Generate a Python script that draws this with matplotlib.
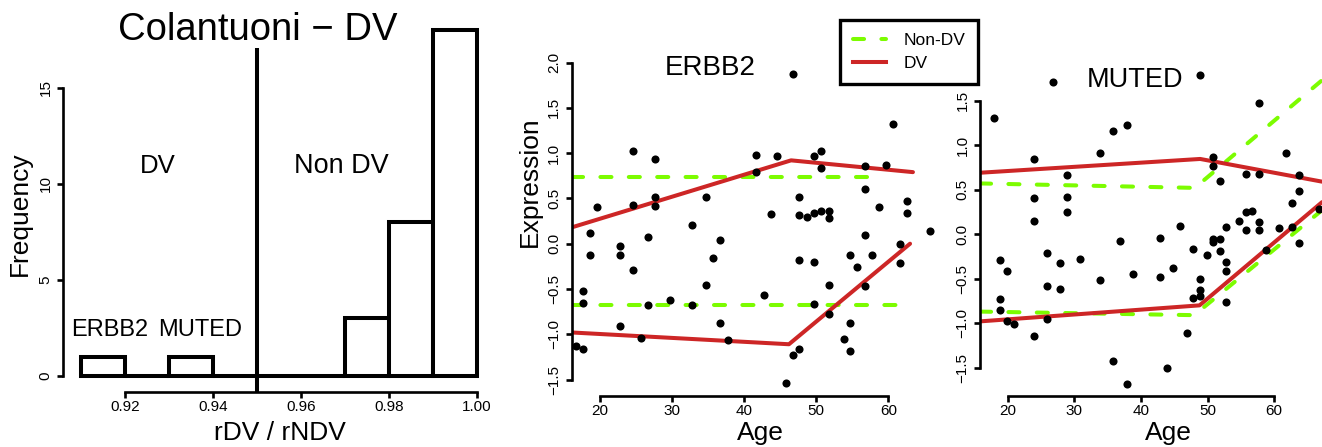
import matplotlib
matplotlib.use("Agg")
import matplotlib.pyplot as plt
from matplotlib.lines import Line2D

plt.rcParams['font.family'] = ['Liberation Sans', 'DejaVu Sans']

# histogram of rDV / rNDV
bin_edges = [0.91, 0.92, 0.93, 0.94, 0.95, 0.96, 0.97, 0.98, 0.99, 1.00]
bin_counts = [1, 0, 1, 0, 0, 0, 3, 8, 18]
cutoff = 0.95

# ERBB2 expression vs age
erbb2_age = [16.7, 17.7, 17.7, 17.7, 18.6, 18.6, 19.6, 22.7, 22.7, 22.7,
             24.6, 24.6, 24.6, 25.7, 26.7, 26.7, 27.6, 27.6, 27.6, 29.7,
             32.7, 32.7, 34.7, 34.7, 35.7, 36.6, 36.6, 37.7, 41.6, 41.6,
             42.7, 43.7, 44.6, 45.8, 46.7, 46.7, 47.6, 47.6, 47.6, 47.6,
             48.7, 49.7, 49.7, 49.7, 49.7, 50.7, 50.7, 50.7, 51.7, 51.7,
             51.7, 51.7, 53.8, 54.7, 54.7, 54.7, 55.7, 56.7, 56.7, 56.7,
             56.7, 57.7, 58.7, 59.7, 60.7, 61.6, 61.6, 62.6, 62.6, 65.7]
erbb2_expr = [-1.13, -0.52, -0.65, -1.16, 0.12, -0.12, 0.41, -0.03, -0.12, -0.91,
              1.02, 0.43, -0.29, -1.04, 0.07, -0.68, 0.93, 0.52, 0.42, -0.62,
              0.21, -0.68, 0.52, -0.46, -0.16, 0.04, -0.88, -1.06, 0.98, 0.79,
              -0.57, 0.33, 0.97, -1.54, 1.87, -1.23, 0.51, 0.32, -0.18, -1.16,
              0.30, 0.97, 0.34, -0.20, -0.67, 1.02, 0.84, 0.36, 0.36, 0.28,
              -0.46, -0.78, -1.05, -0.12, -0.88, -1.18, -0.26, 0.86, 0.60, 0.10,
              -0.47, -0.13, 0.41, 0.87, 1.32, 0.00, -0.21, 0.47, 0.34, 0.14]
erbb2_dv_up_x = [16.07, 46.5, 63.4]
erbb2_dv_up_y = [0.18, 0.92, 0.79]
erbb2_dv_lo_x = [16.07, 46.2, 63.0]
erbb2_dv_lo_y = [-0.98, -1.11, 0.0]
erbb2_ndv_up_x = [16.07, 58.6]
erbb2_ndv_up_y = [0.74, 0.74]
erbb2_ndv_lo_x = [16.07, 62.6]
erbb2_ndv_lo_y = [-0.68, -0.68]

# MUTED expression vs age
muted_age = [17.95, 18.85, 18.85, 18.85, 19.95, 19.95, 20.95, 23.95, 23.95, 23.95,
             23.95, 25.85, 25.85, 25.85, 26.85, 27.85, 27.85, 28.85, 28.85, 28.85,
             30.85, 33.85, 33.85, 35.85, 35.85, 36.85, 37.85, 37.85, 38.85, 42.85,
             42.85, 43.85, 44.85, 45.85, 46.85, 47.85, 47.85, 48.85, 48.85, 48.85,
             48.85, 49.85, 50.85, 50.85, 50.85, 50.85, 51.85, 51.85, 51.85, 52.85,
             52.85, 52.85, 52.85, 54.75, 55.75, 55.75, 55.75, 56.75, 57.75, 57.75,
             57.75, 57.75, 58.85, 60.75, 61.75, 62.75, 62.75, 63.8, 63.8, 63.8,
             66.8]
muted_expr = [1.30, -0.29, -0.73, -0.85, -0.41, -0.98, -1.01, 0.85, 0.41, 0.15,
              -1.14, -0.21, -0.58, -0.95, 1.71, -0.32, -0.62, 0.66, 0.42, 0.25,
              -0.28, 0.91, -0.52, 1.16, -1.43, -0.08, 1.23, -1.68, -0.45, -0.04,
              -0.48, -1.50, -0.38, 0.09, -1.11, -0.17, -0.72, 1.79, -0.50, -0.63,
              -0.69, -0.23, 0.87, 0.77, -0.05, -0.09, 0.60, -0.05, -0.19, 0.08,
              -0.31, -0.41, -0.76, 0.15, 0.68, 0.25, 0.05, 0.26, 1.47, 0.68,
              0.14, 0.05, -0.18, 0.07, 0.91, 0.35, 0.08, 0.66, 0.49, -0.10,
              0.28]
muted_dv_up_x = [15.84, 48.9, 67.2]
muted_dv_up_y = [0.69, 0.845, 0.59]
muted_dv_lo_x = [15.84, 48.8, 67.2]
muted_dv_lo_y = [-0.98, -0.80, 0.36]
muted_ndv_up_x = [15.84, 48.1, 67.2]
muted_ndv_up_y = [0.57, 0.52, 1.73]
muted_ndv_lo_x = [15.84, 48.0, 67.2]
muted_ndv_lo_y = [-0.87, -0.91, 0.27]

RED = '#CD2626'
GREEN = '#7CFC00'
W, H = 1322, 447

fig = plt.figure(figsize=(W / 100, H / 100), dpi=100)


def box(l, t, r, b):
    return [l / W, 1 - b / H, (r - l) / W, (b - t) / H]


def ftext(x, y, s, **kw):
    fig.text(x / W, 1 - y / H, s, ha='center', va='center', **kw)


def style(ax, xb, yb, xt, yt):
    for s in ['top', 'right']:
        ax.spines[s].set_visible(False)
    ax.spines['left'].set_bounds(*yb)
    ax.spines['bottom'].set_bounds(*xb)
    ax.spines['left'].set_linewidth(1.9)
    ax.spines['bottom'].set_linewidth(1.9)
    ax.set_xticks(xt)
    ax.set_yticks(yt)
    ax.tick_params(width=1.9, length=4, labelsize=11)
    ax.tick_params(axis='x', pad=2)
    ax.tick_params(axis='y', pad=3.5)
    ax.patch.set_visible(False)


def rotate_y(ax):
    for lab in ax.get_yticklabels():
        lab.set_rotation(90)
        lab.set_va('center')


# ---- histogram
ax1 = fig.add_axes(box(63, 20, 490, 392))
widths = [bin_edges[i + 1] - bin_edges[i] for i in range(len(bin_counts))]
ax1.bar(bin_edges[:-1], bin_counts, width=widths, align='edge',
        facecolor='white', edgecolor='black', linewidth=2.9)
ax1.plot([cutoff, cutoff], [-0.833, 17.08], color='black', lw=2.9,
         solid_capstyle='butt')
ax1.set_xlim(0.9059, 1.00295)
ax1.set_ylim(-0.833, 18.54)
style(ax1, (0.92, 1.00), (0, 15), [0.92, 0.94, 0.96, 0.98, 1.00], [0, 5, 10, 15])
ax1.set_xticklabels(['0.92', '0.94', '0.96', '0.98', '1.00'])
rotate_y(ax1)

ftext(258, 30, 'Colantuoni \u2212 DV', fontsize=27.5)
ftext(20, 214, 'Frequency', fontsize=19, rotation=90)
ftext(280, 433, 'rDV / rNDV', fontsize=19)
ftext(158, 166, 'DV', fontsize=18.5)
ftext(341, 166, 'Non DV', fontsize=19.5)
ftext(110, 330, 'ERBB2', fontsize=17)
ftext(200, 330, 'MUTED', fontsize=17)

dash = (0, (2.75, 4.3))

# ---- ERBB2
ax2 = fig.add_axes(box(571.7, 55, 935, 395.7))
ax2.scatter(erbb2_age, erbb2_expr, s=34, color='black', linewidths=0,
            clip_on=False, zorder=3)
ax2.plot(erbb2_ndv_up_x, erbb2_ndv_up_y, color=GREEN, lw=2.9, ls=dash,
         dash_capstyle='round')
ax2.plot(erbb2_ndv_lo_x, erbb2_ndv_lo_y, color=GREEN, lw=2.9, ls=dash,
         dash_capstyle='round')
ax2.plot(erbb2_dv_up_x, erbb2_dv_up_y, color=RED, lw=2.9, solid_capstyle='round')
ax2.plot(erbb2_dv_lo_x, erbb2_dv_lo_y, color=RED, lw=2.9, solid_capstyle='round')
ax2.set_xlim(16.07, 66.46)
ax2.set_ylim(-1.678, 2.083)
style(ax2, (20, 60), (-1.5, 2.0), [20, 30, 40, 50, 60],
      [-1.5, -1.0, -0.5, 0.0, 0.5, 1.0, 1.5, 2.0])
ax2.set_yticklabels(['\u22121.5', '\u22121.0', '\u22120.5', '0.0', '0.5', '1.0', '1.5', '2.0'])
rotate_y(ax2)

ftext(710, 68, 'ERBB2', fontsize=20)
ftext(530, 182, 'Expression', fontsize=19, rotation=90)
ftext(760, 433, 'Age', fontsize=19)

# ---- MUTED
ax3 = fig.add_axes(box(980, 55, 1322, 395.7))
ax3.scatter(muted_age, muted_expr, s=34, color='black', linewidths=0,
            clip_on=False, zorder=3)
ax3.plot(muted_ndv_up_x, muted_ndv_up_y, color=GREEN, lw=2.9, ls=dash,
         dash_capstyle='round')
ax3.plot(muted_ndv_lo_x, muted_ndv_lo_y, color=GREEN, lw=2.9, ls=dash,
         dash_capstyle='round')
ax3.plot(muted_dv_up_x, muted_dv_up_y, color=RED, lw=2.9, solid_capstyle='round')
ax3.plot(muted_dv_lo_x, muted_dv_lo_y, color=RED, lw=2.9, solid_capstyle='round')
ax3.set_xlim(15.84, 67.19)
ax3.set_ylim(-1.815, 2.013)
style(ax3, (20, 60), (-1.5, 1.5), [20, 30, 40, 50, 60],
      [-1.5, -1.0, -0.5, 0.0, 0.5, 1.0, 1.5])
ax3.set_yticklabels(['\u22121.5', '\u22121.0', '\u22120.5', '0.0', '0.5', '1.0', '1.5'])
rotate_y(ax3)

ftext(1135, 80, 'MUTED', fontsize=19.5)
ftext(1168, 433, 'Age', fontsize=19)

# ---- legend
handles = [Line2D([], [], color=GREEN, lw=2.9, ls=dash, dash_capstyle='round'),
           Line2D([], [], color=RED, lw=2.9)]
leg = fig.legend(handles, ['Non-DV', 'DV'], loc='upper left',
                 bbox_to_anchor=(840 / W, 1 - 20 / H), borderaxespad=0,
                 fontsize=12.5, handlelength=1.9, handletextpad=1.0,
                 labelspacing=0.45, borderpad=0.75, fancybox=False,
                 framealpha=1, edgecolor='black')
leg.get_frame().set_linewidth(2.4)

fig.savefig('out.png', dpi=100)
